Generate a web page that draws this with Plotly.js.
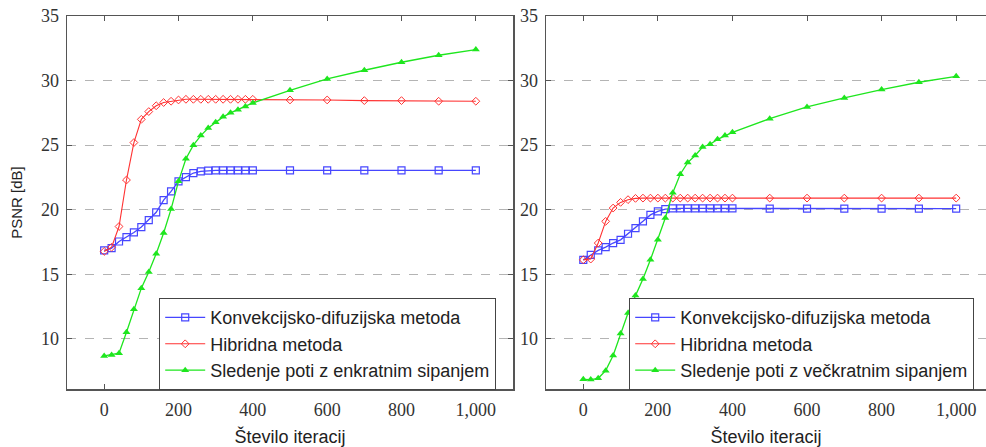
<!DOCTYPE html>
<html>
<head>
<meta charset="utf-8">
<script src="https://cdn.plot.ly/plotly-3.0.1.min.js"></script>
<style>html,body{margin:0;padding:0;background:#fff;}#chart{width:986px;height:447px;}</style>
</head>
<body>
<div id="chart"></div>
<script>
const iterations = [0,20,40,60,80,100,120,140,160,180,200,220,240,260,280,300,320,340,360,380,400,500,600,700,800,900,1000];

const seriesNames1 = ["Konvekcijsko-difuzijska metoda","Hibridna metoda","Sledenje poti z enkratnim sipanjem"];
const seriesNames2 = ["Konvekcijsko-difuzijska metoda","Hibridna metoda","Sledenje poti z večkratnim sipanjem"];

const konvLeft = [16.85,17.03,17.54,17.88,18.24,18.66,19.2,19.8,20.74,21.42,22.2,22.53,22.84,22.97,23.03,23.05,23.05,23.05,23.05,23.05,23.05,23.05,23.05,23.05,23.05,23.05,23.05];
const hibLeft = [16.77,17.1,18.7,22.3,25.2,27.0,27.6,28.05,28.3,28.4,28.5,28.55,28.55,28.55,28.55,28.55,28.55,28.55,28.55,28.55,28.55,28.5,28.5,28.45,28.45,28.4,28.4];
const sledLeft = [8.68,8.76,8.89,10.52,12.3,13.93,15.18,16.6,18.2,20.05,22.2,23.95,25.0,25.74,26.33,26.77,27.19,27.5,27.75,28.0,28.27,29.25,30.13,30.8,31.42,31.96,32.4];

const konvRight = [16.12,16.5,16.85,17.1,17.42,17.67,18.14,18.58,19.1,19.6,19.87,20.05,20.1,20.1,20.1,20.1,20.1,20.1,20.1,20.1,20.1,20.08,20.08,20.08,20.08,20.08,20.08];
const hibRight = [16.12,16.18,17.42,19.1,20.13,20.57,20.78,20.88,20.9,20.9,20.9,20.9,20.9,20.9,20.9,20.9,20.9,20.9,20.9,20.9,20.9,20.9,20.9,20.9,20.9,20.9,20.9];
const sledRight = [6.87,6.85,6.95,7.54,8.72,10.42,12.0,13.35,14.63,16.12,17.67,19.36,21.32,22.75,23.65,24.2,24.86,25.07,25.45,25.74,25.99,27.05,27.96,28.66,29.3,29.87,30.33];

const xTickVals = [0,200,400,600,800,1000];
const xTickText = ["0","200","400","600","800","1,000"];
const yTickVals = [10,15,20,25,30,35];
const yTickText = ["10","15","20","25","30","35"];

const xTitle = "Število iteracij";
const yTitle = "PSNR [dB]";

const blue = "rgb(70,70,255)";
const red = "rgb(255,50,50)";
const green = "rgb(30,230,30)";

function styles(i){
  return [
    {line:{color:blue,width:1.3}, marker:{symbol:"square-open",size:7,color:blue,line:{width:1.2,color:blue}}},
    {line:{color:red,width:1.1}, marker:{symbol:"diamond-open",size:6,color:red,line:{width:1,color:red}}},
    {line:{color:green,width:1.3}, marker:{symbol:"triangle-up",size:7,color:green}}
  ][i];
}

const traces = [];
[konvLeft,hibLeft,sledLeft].forEach((ys,i)=>{
  const s = styles(i);
  traces.push({x:iterations,y:ys,type:"scatter",mode:"lines+markers",name:seriesNames1[i],
    line:s.line,marker:s.marker,xaxis:"x",yaxis:"y",legend:"legend"});
});
[konvRight,hibRight,sledRight].forEach((ys,i)=>{
  const s = styles(i);
  traces.push({x:iterations,y:ys,type:"scatter",mode:"lines+markers",name:seriesNames2[i],
    line:s.line,marker:s.marker,xaxis:"x2",yaxis:"y2",legend:"legend2"});
});

const frame = "#555";
const tickFont = {family:"Liberation Serif, DejaVu Serif, serif",size:18,color:"#333"};
const titleFont = {family:"Liberation Sans, Arial, sans-serif",size:18,color:"#222"};

function xax(domain, range){
  return {domain:domain,range:range,showline:true,linecolor:frame,linewidth:1.5,mirror:"ticks",
    ticks:"inside",ticklen:5,tickwidth:1,tickcolor:frame,tickvals:xTickVals,ticktext:xTickText,
    tickfont:tickFont,showgrid:false,zeroline:false,ticklabelstandoff:4,
    title:{text:xTitle,font:titleFont,standoff:14}};
}
function yax(anchor, mirror, withTitle){
  const a = {domain:[1-389/447,1-16/447],range:[6.12,35],anchor:anchor,showline:true,linecolor:frame,linewidth:1.5,
    mirror:mirror,ticks:"inside",ticklen:5,tickwidth:1,tickcolor:frame,tickvals:yTickVals,ticktext:yTickText,
    tickfont:tickFont,showgrid:true,gridcolor:"#b4b4b4",griddash:"dash",gridwidth:1.2,zeroline:false,ticklabelstandoff:3};
  if(withTitle){a.title={text:yTitle,font:{family:"Liberation Sans, Arial, sans-serif",size:15,color:"#222"},standoff:14};}
  return a;
}

const legendStyle = {bgcolor:"#fff",bordercolor:"#444",borderwidth:1.2,
  font:{family:"Liberation Sans, Arial, sans-serif",size:18,color:"#222"},
  xanchor:"left",yanchor:"top",tracegroupgap:0,itemwidth:40};

const layout = {
  width:986,height:447,margin:{l:0,r:0,t:0,b:0},
  paper_bgcolor:"#fff",plot_bgcolor:"#fff",
  xaxis:xax([67/986,513/986],[-100,1100]),
  xaxis2:Object.assign(xax([546/986,1],[-100,1080]),{anchor:"y2"}),
  yaxis:yax("x","ticks",true),
  yaxis2:yax("x2",false,false),
  legend:Object.assign({},legendStyle,{x:159/986,y:1-298/447}),
  legend2:Object.assign({},legendStyle,{x:629/986,y:1-298/447}),
  showlegend:true
};
layout.xaxis.anchor = "y";

Plotly.newPlot("chart",traces,layout,{displayModeBar:false,staticPlot:true});
</script>
</body>
</html>
